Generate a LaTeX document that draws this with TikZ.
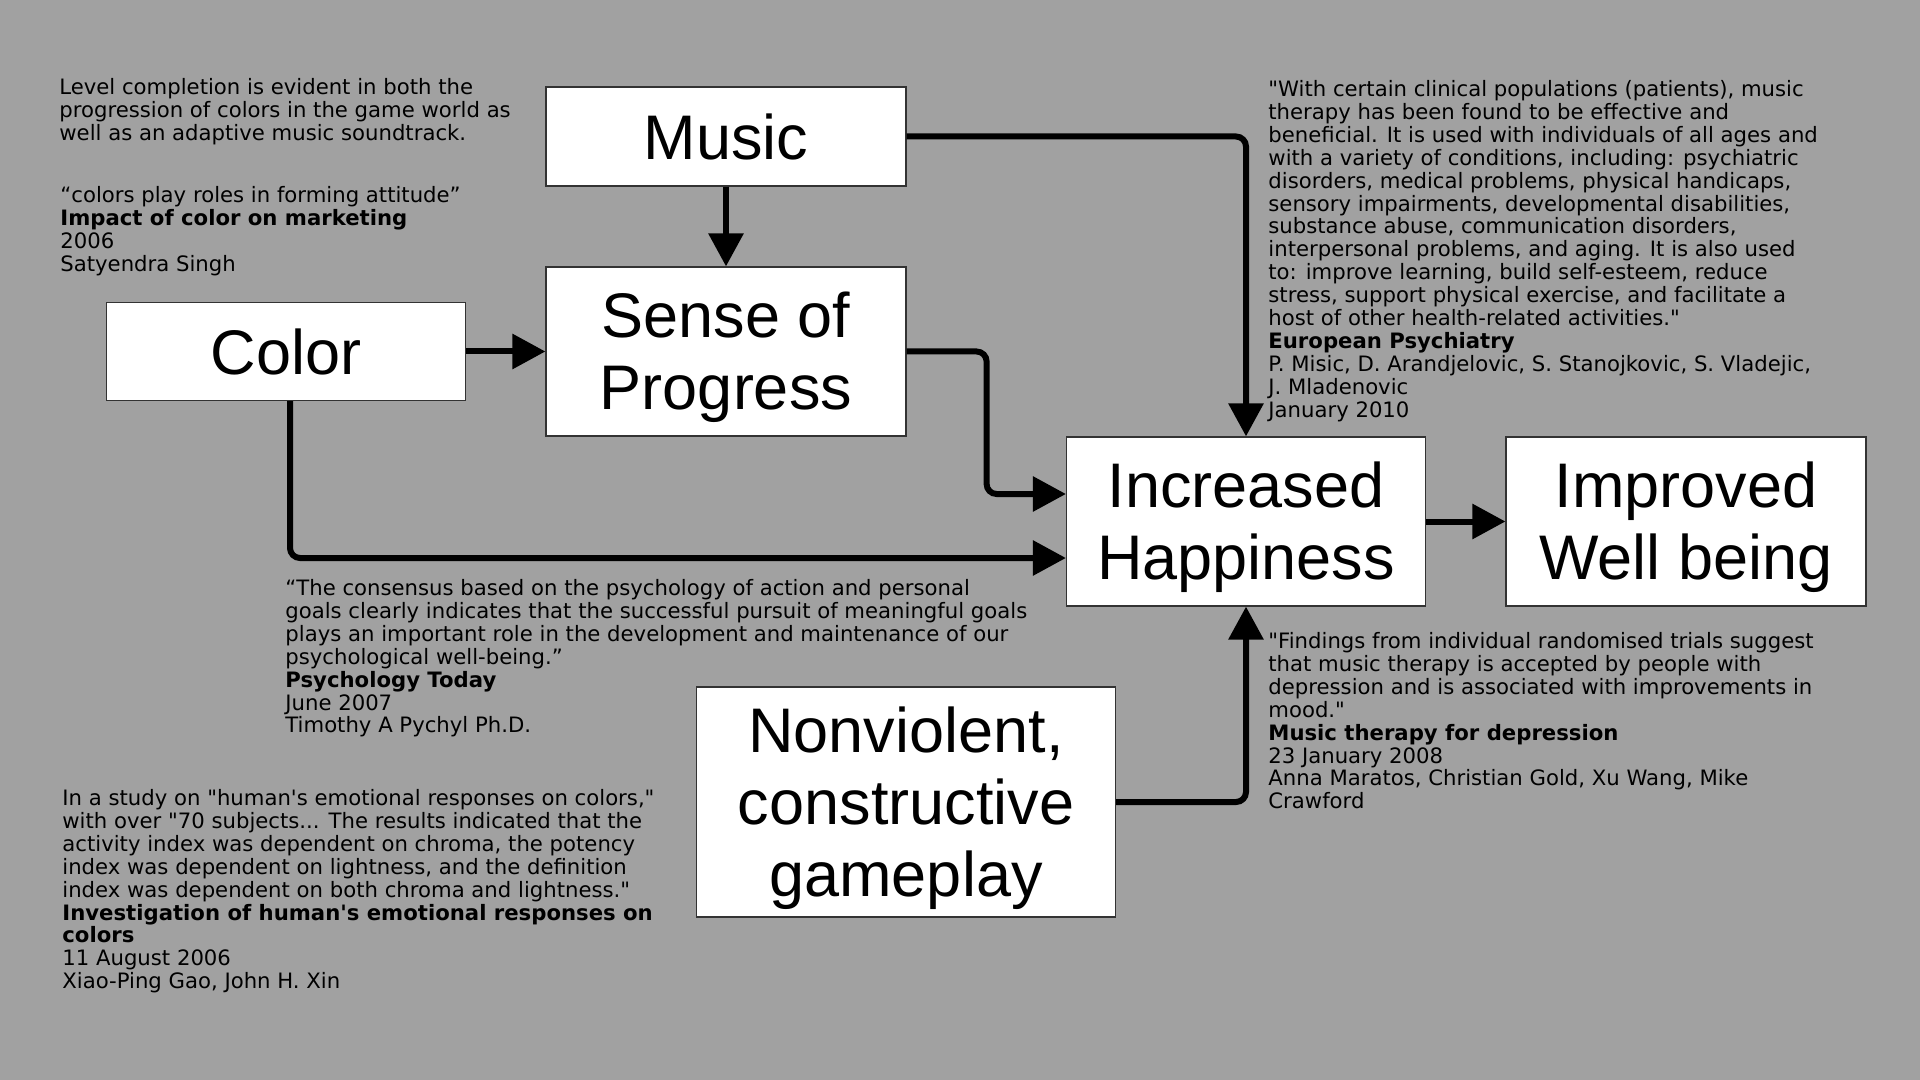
\documentclass[tikz,border=0pt]{standalone}
\usepackage{fontspec}
\setmainfont{DejaVu Sans}[Ligatures=TeXOff]
\newfontfamily\boxfont{Liberation Sans}
\usetikzlibrary{arrows.meta, calc}
\definecolor{bggray}{RGB}{161,161,161}
\newcommand{\boxtop}{\rule{0pt}{29pt}}

\begin{document}
\begin{tikzpicture}[x=0.5pt, y=-0.5pt,
  box/.style={draw=black!80, line width=0.6pt, fill=white, align=center, inner sep=0pt,
    font=\boxfont\fontsize{31.5}{36}\selectfont},
  note/.style={anchor=north west, inner sep=0pt, align=left,
    font=\fontsize{10.6}{11.45}\selectfont},
  flow/.style={-{Triangle[length=16.5pt, width=17pt]}, line width=3pt, rounded corners=5pt}]
  % background
  \fill[bggray] (0,0) rectangle (1920,1080);
  % boxes
  \node[box, minimum width=180pt, minimum height=49.5pt] (music) at (726,136.5) {Music};
  \node[box, minimum width=180pt, minimum height=84.5pt] (sense) at (726,351.5) {\boxtop Sense of\\Progress};
  \node[box, minimum width=179.5pt, minimum height=49pt] (color) at (286,351.5) {Color};
  \node[box, minimum width=179.5pt, minimum height=84.5pt] (happy) at (1246,521.5) {\boxtop Increased\\Happiness};
  \node[box, minimum width=180pt, minimum height=84.5pt] (wellbeing) at (1686,521.5) {\boxtop Improved\\Well being};
  \node[box, minimum width=209.5pt, minimum height=115pt] (nonviolent) at (906,802) {\boxtop Nonviolent,\\constructive\\gameplay};
  % connectors
  \draw[flow] (music.south) -- (sense.north);
  \draw[flow] (color.east) -- (sense.west);
  \draw[flow] (sense.east) -- ++(80,0) |- ($(happy.west)+(0,-27.5)$);
  \draw[flow] ($(color.south)+(4,0)$) |- ($(happy.west)+(0,36.5)$);
  \draw[flow] (music.east) -| (happy.north);
  \draw[flow] (nonviolent.east) -| (happy.south);
  \draw[flow] (happy.east) -- (wellbeing.west);
  % notes
  \node[note] (levelnote) at (59,78) {Level completion is evident in both the\\
    progression of colors in the game world as\\
    well as an adaptive music soundtrack.};
  \node[note] (colornote) at (60,186) {“colors play roles in forming attitude”\\
    \textbf{Impact of color on marketing}\\
    2006\\
    Satyendra Singh};
  \node[note] (psychnote) at (1268,80) {"With certain clinical populations (patients), music\\
    therapy has been found to be effective and\\
    beneficial. It is used with individuals of all ages and\\
    with a variety of conditions, including: psychiatric\\
    disorders, medical problems, physical handicaps,\\
    sensory impairments, developmental disabilities,\\
    substance abuse, communication disorders,\\
    interpersonal problems, and aging. It is also used\\
    to: improve learning, build self-esteem, reduce\\
    stress, support physical exercise, and facilitate a\\
    host of other health-related activities."\\
    \textbf{European Psychiatry}\\
    P. Misic, D. Arandjelovic, S. Stanojkovic, S. Vladejic,\\
    J. Mladenovic\\
    January 2010};
  \node[note] (goalnote) at (285,579) {“The consensus based on the psychology of action and personal\\
    goals clearly indicates that the successful pursuit of meaningful goals\\
    plays an important role in the development and maintenance of our\\
    psychological well-being.”\\
    \textbf{Psychology Today}\\
    June 2007\\
    Timothy A Pychyl Ph.D.};
  \node[note] (moodnote) at (1268,632) {"Findings from individual randomised trials suggest\\
    that music therapy is accepted by people with\\
    depression and is associated with improvements in\\
    mood."\\
    \textbf{Music therapy for depression}\\
    23 January 2008\\
    Anna Maratos, Christian Gold, Xu Wang, Mike\\
    Crawford};
  \node[note] (chromanote) at (62,789) {In a study on "human's emotional responses on colors,"\\
    with over "70 subjects... The results indicated that the\\
    activity index was dependent on chroma, the potency\\
    index was dependent on lightness, and the definition\\
    index was dependent on both chroma and lightness."\\
    \textbf{Investigation of human's emotional responses on}\\
    \textbf{colors}\\
    11 August 2006\\
    Xiao-Ping Gao, John H. Xin};
\end{tikzpicture}
\end{document}
